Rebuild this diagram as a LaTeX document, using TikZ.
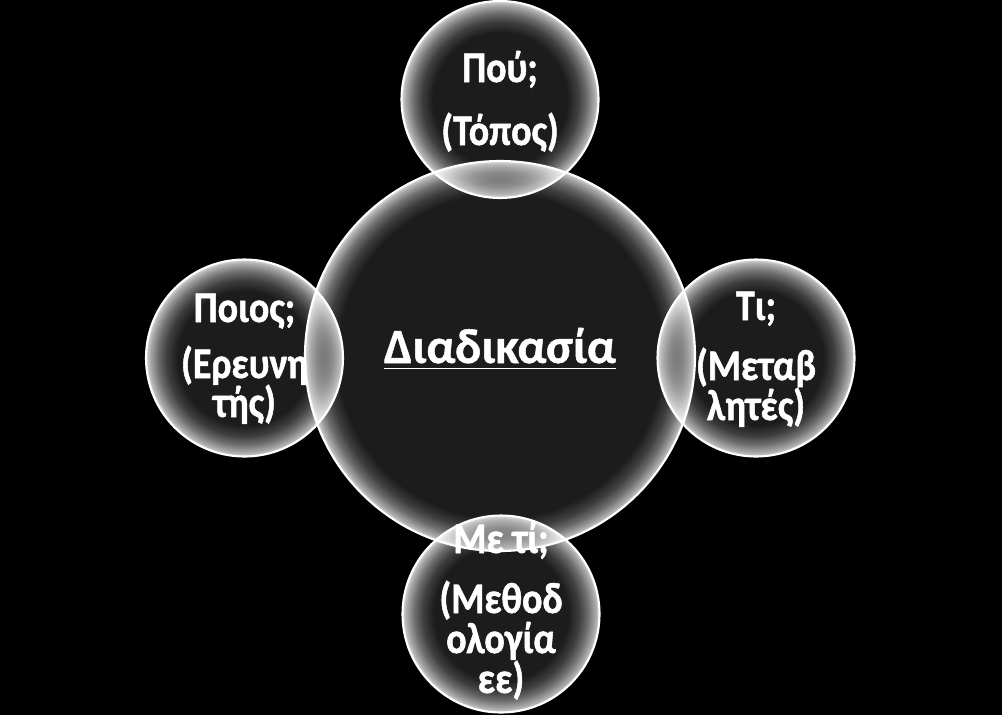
\documentclass[tikz,border=0pt]{standalone}
\usepackage{fontspec}
\setmainfont{Carlito}
\newfontfamily\tallfont[FakeStretch=0.87, BoldFont={Carlito Bold},
  BoldFeatures={FakeBold=1.2}]{Carlito}
\newfontfamily\hubfont[BoldFont={Carlito Bold}, BoldFeatures={FakeBold=1}]{Carlito}
\usetikzlibrary{positioning}

\definecolor{bubblein}{RGB}{28,28,28}
\definecolor{rimA}{RGB}{62,62,62}
\definecolor{rimB}{RGB}{110,110,110}
\definecolor{rimC}{RGB}{170,170,170}
\definecolor{rimD}{RGB}{215,215,215}

\pgfdeclareradialshading{smallglow}{\pgfpoint{0bp}{0bp}}{%
  color(0bp)=(bubblein); color(17bp)=(bubblein); color(19.8bp)=(rimA);
  color(22bp)=(rimB); color(24bp)=(rimC); color(25bp)=(rimD); color(50bp)=(rimD)}
\pgfdeclareradialshading{bigglow}{\pgfpoint{0bp}{0bp}}{%
  color(0bp)=(bubblein); color(20.8bp)=(bubblein); color(22.3bp)=(rimA);
  color(23.5bp)=(rimB); color(24.5bp)=(rimC); color(25bp)=(rimD); color(50bp)=(rimD)}

\tikzstyle{bubble} = [circle, draw=white, line width=0.6pt, shading=smallglow,
                      minimum size=1.97cm, inner sep=0pt]
\tikzstyle{hub} = [bubble, shading=bigglow, minimum size=3.9cm]
\tikzstyle{txt} = [text=white, font=\tallfont\bfseries\fontsize{12.4}{14}\selectfont,
                   anchor=base, inner sep=0pt]

\begin{document}
\begin{tikzpicture}
  \fill [black] (0,0) rectangle (10.02,7.15);
  \useasboundingbox (0,0) rectangle (10.02,7.15);

  %% Bubbles, lightened where they overlap
  \begin{scope}[blend mode=screen]
    \node (bottom) [bubble] at (5.01,1.01) {};
    \node (hub)    [hub]    at (5.00,3.59) {};
    \node (top)    [bubble] at (5.00,6.155) {};
    \node (left)   [bubble] at (2.445,3.57) {};
    \node (right)  [bubble] at (7.56,3.57) {};
  \end{scope}

  %% Centre
  \node (hubtext) [txt, font=\hubfont\bfseries\fontsize{14}{16}\selectfont]
    at ([yshift=-0.07cm]hub.center) {\underline{Διαδικασία}};

  %% Where?
  \node (where)  [txt] at ([yshift=0.175cm]top.center) {Πού;};
  \node (place)  [txt] at ([yshift=-0.455cm]top.center) {(Τόπος)};

  %% Who?
  \node (who)    [txt] at ([yshift=0.36cm]left.center) {Ποιος;};
  \node (res1)   [txt] at ([yshift=-0.20cm]left.center) {(Ερευνη};
  \node (res2)   [txt] at ([yshift=-0.59cm]left.center) {τής)};

  %% What?
  \node (what)   [txt] at ([yshift=0.38cm]right.center) {Τι;};
  \node (var1)   [txt] at ([yshift=-0.22cm]right.center) {(Μεταβ};
  \node (var2)   [txt] at ([yshift=-0.62cm]right.center) {λητές)};

  %% With what?
  \node (how)    [txt] at ([yshift=0.61cm]bottom.center) {Με τί;};
  \node (meth1)  [txt] at ([yshift=0.01cm]bottom.center) {(Μεθοδ};
  \node (meth2)  [txt] at ([yshift=-0.39cm]bottom.center) {ολογία};
  \node (meth3)  [txt] at ([yshift=-0.79cm]bottom.center) {εε)};
\end{tikzpicture}
\end{document}
